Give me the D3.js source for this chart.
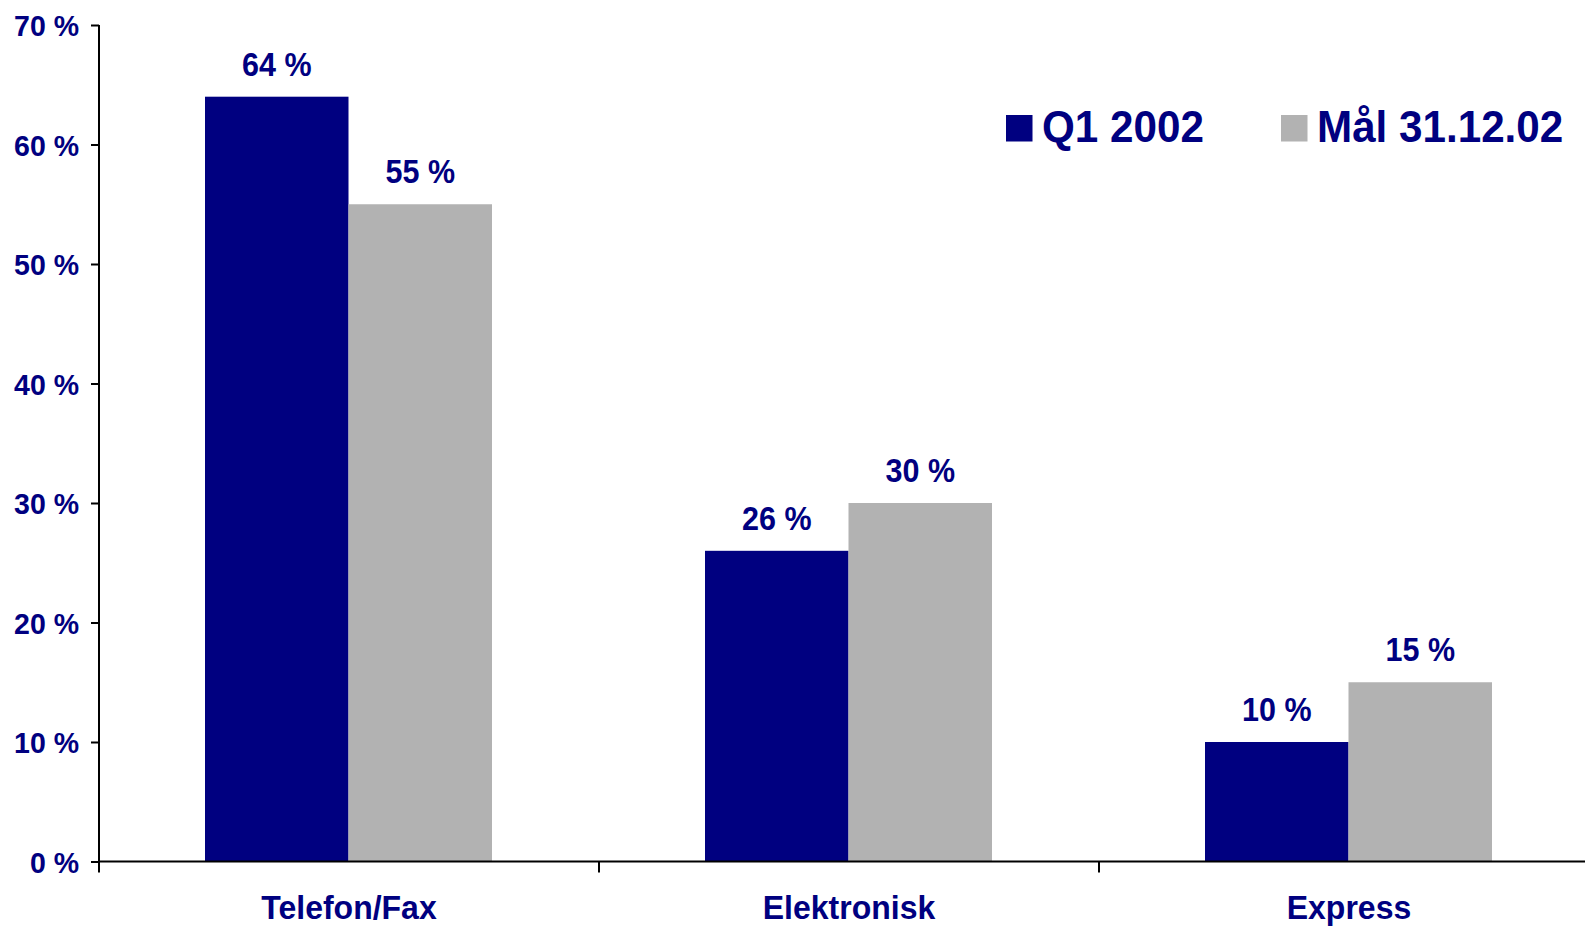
<!DOCTYPE html>
<html>
<head>
<meta charset="utf-8">
<script src="https://cdn.jsdelivr.net/npm/d3@7"></script>
<style>
  html, body { margin: 0; padding: 0; background: #fff; }
  svg { display: block; }
  text { font-family: "Liberation Sans", Arial, sans-serif; font-weight: bold; fill: #000080; }
</style>
</head>
<body>
<svg id="chart" width="1585" height="927"></svg>
<script>
const categories = ["Telefon/Fax", "Elektronisk", "Express"];
const seriesNames = ["Q1 2002", "Mål 31.12.02"];
const q1Values = [64, 26, 10];
const goalValues = [55, 30, 15];
const yTicks = [0, 10, 20, 30, 40, 50, 60, 70];
const colors = ["#000080", "#b2b2b2"];

const seriesValues = [q1Values, goalValues];
const svg = d3.select("#chart");

const x0 = 99, x1 = 1599, yTop = 25, yBottom = 861.5;
const SY = 1.06;

function label(parent, x, y, size, anchor, str) {
  return parent.append("text")
    .attr("transform", `translate(${x},${y}) scale(1,${SY})`)
    .attr("text-anchor", anchor)
    .attr("font-size", size)
    .text(str);
}

const y = d3.scaleLinear().domain([0, 70]).range([yBottom, yTop]);
const x = d3.scaleBand().domain(categories).range([x0, x1]).padding(0);
const step = x.bandwidth();
const groupOffset = 106;
const barW = 143.5;
const xs = d3.scaleBand().domain(seriesNames).range([groupOffset, groupOffset + 2 * barW]).padding(0);

// bars
const g = svg.append("g");
categories.forEach((c, i) => {
  seriesNames.forEach((s, j) => {
    const v = seriesValues[j][i];
    g.append("rect")
      .attr("x", x(c) + xs(s))
      .attr("y", y(v))
      .attr("width", xs.bandwidth())
      .attr("height", y(0) - y(v))
      .attr("fill", colors[j]);
    label(g, x(c) + xs(s) + xs.bandwidth() / 2, y(v) - 21, 30.5, "middle", v + " %");
  });
});

// y axis
const yAxis = d3.axisLeft(y).tickValues(yTicks).tickFormat(d => d + " %").tickSize(8).tickPadding(12);
const ya = svg.append("g").attr("transform", `translate(${x0},0)`).call(yAxis);
ya.select(".domain").remove();
ya.selectAll(".tick line").attr("stroke", "#000").attr("stroke-width", 2);
ya.selectAll(".tick text").remove();
ya.selectAll(".tick").each(function(d) {
  label(d3.select(this), -20, 0.36 * 28.5 * SY, 28.5, "end", d + " %");
});
svg.append("line").attr("x1", x0).attr("x2", x0).attr("y1", yTop).attr("y2", yBottom + 11)
  .attr("stroke", "#000").attr("stroke-width", 2);

// x axis
svg.append("line").attr("x1", x0).attr("x2", x1).attr("y1", yBottom).attr("y2", yBottom)
  .attr("stroke", "#000").attr("stroke-width", 2);
categories.forEach((c, i) => {
  if (i > 0) {
    svg.append("line").attr("x1", x(c)).attr("x2", x(c)).attr("y1", yBottom).attr("y2", yBottom + 11)
      .attr("stroke", "#000").attr("stroke-width", 2);
  }
  label(svg, x(c) + step / 2, 919, 32, "middle", c);
});

// legend
const legendX = [1006, 1281];
seriesNames.forEach((s, j) => {
  svg.append("rect").attr("x", legendX[j]).attr("y", 115).attr("width", 26.5).attr("height", 26.5).attr("fill", colors[j]);
  label(svg, legendX[j] + 36, 141.7, 42.2, "start", s);
});
</script>
</body>
</html>
